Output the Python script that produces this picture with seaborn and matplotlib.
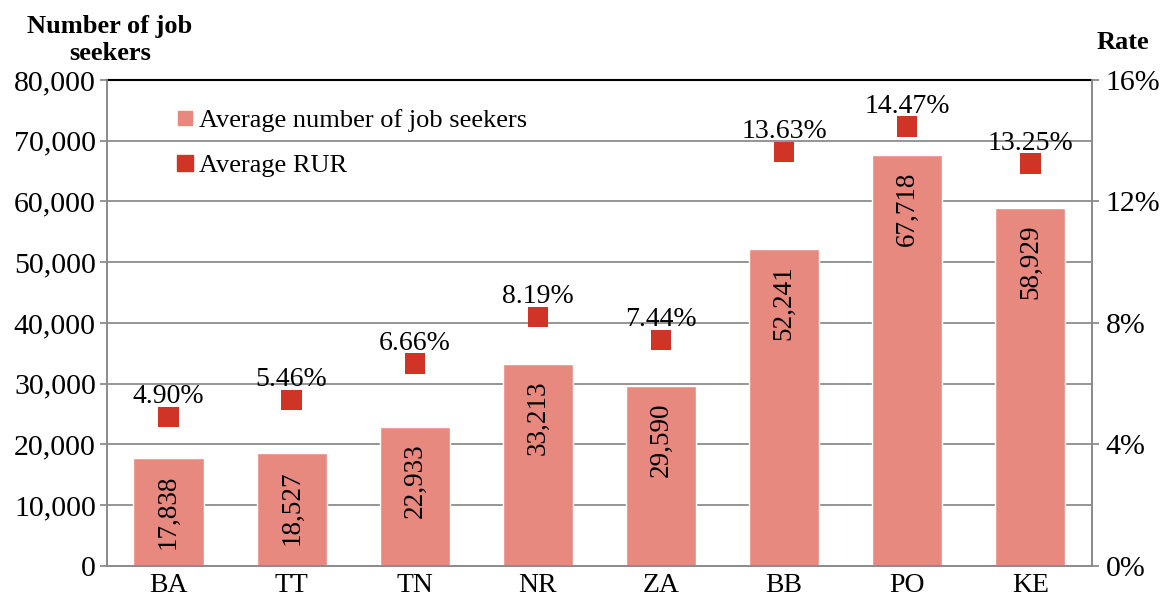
import matplotlib
matplotlib.use("Agg")
import matplotlib.pyplot as plt
import seaborn as sns
import pandas as pd
from matplotlib.lines import Line2D
from matplotlib.ticker import FuncFormatter, MultipleLocator

# data
regions = ['BA', 'TT', 'TN', 'NR', 'ZA', 'BB', 'PO', 'KE']
job_seekers = [17838, 18527, 22933, 33213, 29590, 52241, 67718, 58929]
rur = [4.90, 5.46, 6.66, 8.19, 7.44, 13.63, 14.47, 13.25]

bar_color = '#E8897F'
mark_color = '#CF3427'
grid_color = '#8C8C8C'

df = pd.DataFrame({'region': regions, 'seekers': job_seekers, 'rur': rur})

sns.set_style('white')
plt.rcParams['font.family'] = ['Liberation Serif', 'DejaVu Serif']
plt.rcParams['text.color'] = 'black'
plt.rcParams['xtick.labelcolor'] = 'black'
plt.rcParams['ytick.labelcolor'] = 'black'

fig = plt.figure(figsize=(11.65, 6.05), dpi=100)
ax = fig.add_axes([0.0918, 0.0645, 0.8455, 0.8033])

sns.barplot(data=df, x='region', y='seekers', color=bar_color, width=0.57,
            saturation=1, ax=ax, zorder=2)
ax.set_xlim(-0.5, len(regions) - 0.5)
ax.set_ylim(0, 80000)
ax.yaxis.set_major_locator(MultipleLocator(10000))
ax.yaxis.set_major_formatter(FuncFormatter(lambda v, p: f'{int(v):,}'))
ax.grid(axis='y', color=grid_color, linewidth=1.3, zorder=0)
ax.set_axisbelow(True)
ax.set_xlabel('')
ax.set_ylabel('')

# category ticks sit between bars
ax.set_xticks(range(len(regions)))
ax.set_xticklabels(regions)
ax.set_xticks([i - 0.5 for i in range(len(regions) + 1)], minor=True)
ax.tick_params(axis='x', which='major', length=0, pad=5, labelsize=20)
ax.tick_params(axis='x', which='minor', length=5, width=1.3, color=grid_color)
ax.tick_params(axis='y', length=5, width=1.3, color=grid_color, labelsize=21.5, pad=3)

for side in ['left', 'bottom', 'right']:
    ax.spines[side].set_color(grid_color)
    ax.spines[side].set_linewidth(1.3)
ax.spines['top'].set_color('black')
ax.spines['top'].set_linewidth(1.5)

for i, v in enumerate(job_seekers):
    ax.annotate(f'{v:,}', (i, v), xytext=(0, -12), textcoords='offset points',
                rotation=90, ha='center', va='top', fontsize=19.5)

ax2 = ax.twinx()
sns.scatterplot(data=df, x='region', y='rur', marker='s', s=215, color=mark_color,
                edgecolor='none', ax=ax2, zorder=3)
ax2.set_ylim(0, 16)
ax2.yaxis.set_major_locator(MultipleLocator(4))
ax2.yaxis.set_major_formatter(FuncFormatter(lambda v, p: f'{v:.0f}%'))
ax2.tick_params(axis='y', length=5, width=1.3, color=grid_color, labelsize=21.5, pad=5)
ax2.set_ylabel('')
ax2.set_xlim(-0.5, len(regions) - 0.5)
for side in ['left', 'bottom', 'right']:
    ax2.spines[side].set_color(grid_color)
    ax2.spines[side].set_linewidth(1.3)
ax2.spines['top'].set_visible(False)

for i, v in enumerate(rur):
    ax2.annotate(f'{v:.2f}%', (i, v), xytext=(0, 10), textcoords='offset points',
                 ha='center', va='baseline', fontsize=20)

fig.text(0.0944, 0.934, 'Number of job\nseekers', ha='center', va='center',
         fontsize=19, fontweight='bold', linespacing=1.25)
fig.text(0.964, 0.930, 'Rate', ha='center', va='center', fontsize=19, fontweight='bold')

handles = [Line2D([], [], marker='s', linestyle='none', color=bar_color, markersize=10),
           Line2D([], [], marker='s', linestyle='none', color=mark_color, markersize=12)]
ax.legend(handles, ['Average number of job seekers', 'Average RUR'],
          loc='upper left', bbox_to_anchor=(0.06, 0.962), frameon=False,
          fontsize=19, handlelength=0.6, handletextpad=0.25, labelspacing=0.8,
          borderaxespad=0)

fig.savefig('out.png', dpi=100)
